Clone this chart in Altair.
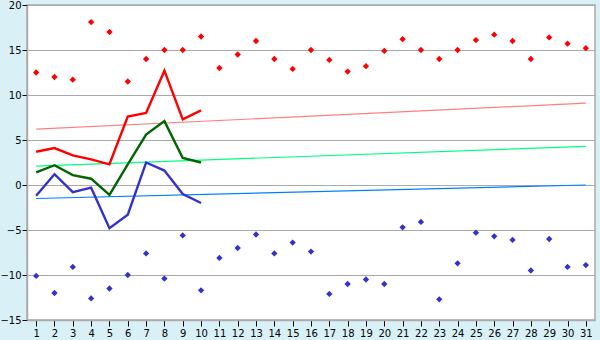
import altair as alt
import pandas as pd

days = list(range(1, 32))
tmax = [12.5, 12.0, 11.7, 18.1, 17.0, 11.5, 14.0, 15.0, 15.0, 16.5,
        13.0, 14.5, 16.0, 14.0, 12.9, 15.0, 13.9, 12.6, 13.2, 14.9,
        16.2, 15.0, 14.0, 15.0, 16.1, 16.7, 16.0, 14.0, 16.4, 15.7, 15.2]
tmin = [-10.1, -12.0, -9.1, -12.6, -11.5, -10.0, -7.6, -10.4, -5.6, -11.7,
        -8.1, -7.0, -5.5, -7.6, -6.4, -7.4, -12.1, -11.0, -10.5, -11.0,
        -4.7, -4.1, -12.7, -8.7, -5.3, -5.7, -6.1, -9.5, -6.0, -9.1, -8.9]
line_days = list(range(1, 11))
line_max = [3.7, 4.1, 3.3, 2.85, 2.3, 7.6, 8.0, 12.7, 7.3, 8.3]
line_avg = [1.4, 2.2, 1.1, 0.7, -1.1, 2.3, 5.6, 7.1, 3.0, 2.5]
line_min = [-1.2, 1.2, -0.8, -0.3, -4.8, -3.3, 2.5, 1.6, -1.0, -2.0]
trend_days = [1, 31]
trend_max = [6.2, 9.1]
trend_avg = [2.1, 4.3]
trend_min = [-1.5, 0.0]

pts = pd.DataFrame({
    "day": days * 2,
    "value": tmax + tmin,
    "series": ["max"] * 31 + ["min"] * 31,
})
lines = pd.DataFrame({
    "day": line_days * 3,
    "value": line_max + line_avg + line_min,
    "series": ["lmax"] * 10 + ["lavg"] * 10 + ["lmin"] * 10,
})
trends = pd.DataFrame({
    "day": trend_days * 3,
    "value": trend_max + trend_avg + trend_min,
    "series": ["tmax"] * 2 + ["tavg"] * 2 + ["tmin"] * 2,
})

domain = ["max", "min", "lmax", "lavg", "lmin", "tmax", "tavg", "tmin"]
colors = ["#ff0000", "#3333cc", "#ff0000", "#006600", "#3333cc",
          "#ff8080", "#00ff80", "#0080ff"]
color = alt.Color("series:N", scale=alt.Scale(domain=domain, range=colors), legend=None)

x = alt.X("day:Q", scale=alt.Scale(domain=[0.5, 31.5], nice=False, zero=False),
          axis=alt.Axis(values=days, title=None, grid=False, tickSize=6,
                        labelFontSize=10, labelPadding=2, format="d"))
y = alt.Y("value:Q", scale=alt.Scale(domain=[-15, 20], nice=False),
          axis=alt.Axis(values=list(range(-15, 21, 5)), title=None, grid=True,
                        tickSize=5, labelFontSize=10, labelPadding=1))

trend_layer = alt.Chart(trends).mark_line(strokeWidth=1.2).encode(
    x=x, y=y, color=color, detail="series:N")
line_layer = alt.Chart(lines).mark_line(strokeWidth=2.4).encode(
    x=x, y=y, color=color, detail="series:N")
pt_layer = alt.Chart(pts).mark_point(shape="diamond", filled=True, size=40, opacity=1).encode(
    x=x, y=y, color=color)

chart = alt.layer(trend_layer, line_layer, pt_layer).properties(
    width=568, height=315,
    autosize=alt.AutoSizeParams(type="none"),
    padding={"left": 27, "top": 5, "right": 5, "bottom": 20},
    background="#d9f0f7",
).configure_view(
    fill="white", stroke="#aaaaaa", strokeWidth=1.5
).configure_axis(
    domainColor="#aaaaaa", domainWidth=1.5, tickColor="black", gridColor="#aaaaaa",
    gridWidth=1, labelColor="black", labelFont="DejaVu Sans",
)

chart.save("out.html", embed_options={"renderer": "svg", "actions": False})
